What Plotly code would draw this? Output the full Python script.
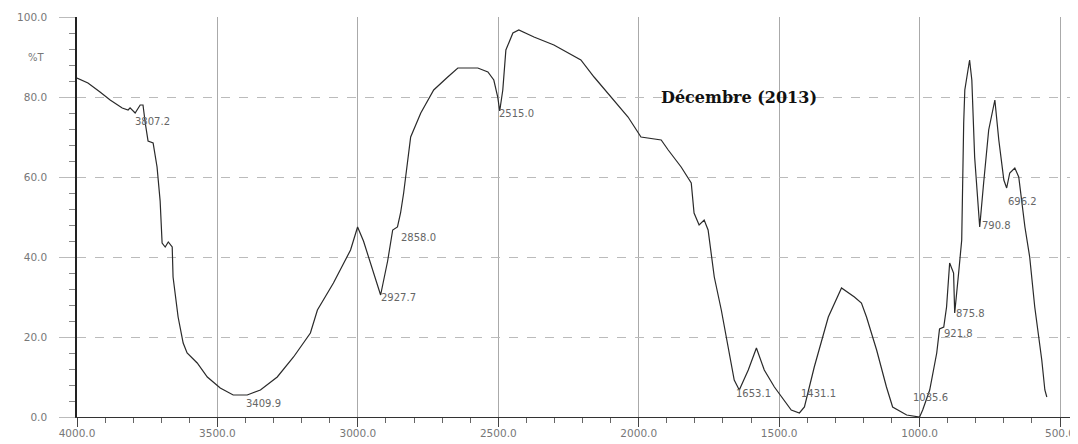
import plotly.graph_objects as go

# IR spectrum, Décembre (2013): wavenumber (cm-1) vs %T
wavenumber = [4000, 3961, 3918, 3882, 3839, 3818, 3811, 3793, 3775, 3765, 3757, 3747, 3729, 3715,
              3704, 3697, 3686, 3675, 3661, 3658, 3640, 3622, 3608, 3572, 3536, 3490, 3444, 3394,
              3347, 3287, 3229, 3169, 3144, 3087, 3026, 3001, 2980, 2955, 2919, 2894, 2876, 2859,
              2848, 2837, 2823, 2812, 2776, 2730, 2680, 2644, 2573, 2537, 2516, 2502, 2495, 2484,
              2473, 2448, 2427, 2373, 2302, 2206, 2159, 2099, 2038, 1992, 1920, 1895, 1849, 1813,
              1803, 1785, 1767, 1753, 1731, 1706, 1681, 1660, 1642, 1610, 1581, 1553, 1517, 1492,
              1457, 1428, 1410, 1375, 1325, 1278, 1232, 1207, 1189, 1153, 1118, 1096, 1046, 1000,
              989, 964, 939, 929, 914, 904, 893, 879, 875, 861, 850, 843, 839, 822, 814, 804, 790,
              786, 772, 754, 732, 718, 700, 690, 679, 661, 647, 625, 608, 590, 565, 554, 547]
transmittance = [84.75, 83.5, 81.25, 79.25, 77.25, 76.75, 77.3, 76.0, 78.0, 78.0, 73.5, 69.0, 68.5, 62.5,
                 54.0, 43.5, 42.5, 43.75, 42.5, 35.0, 25.0, 18.5, 16.0, 13.5, 10.0, 7.25, 5.5, 5.5,
                 6.75, 10.0, 15.0, 21.0, 26.75, 33.5, 41.75, 47.5, 44.0, 38.5, 30.5, 39.0, 46.75, 47.5,
                 51.0, 56.0, 64.0, 70.0, 76.0, 81.75, 85.0, 87.25, 87.25, 86.25, 84.25, 80.0, 76.5, 81.75,
                 91.75, 96.0, 96.75, 95.0, 93.0, 89.25, 85.0, 80.0, 75.0, 70.0, 69.25, 66.75, 62.5, 58.5,
                 51.0, 48.0, 49.25, 46.75, 35.0, 26.75, 16.75, 9.25, 6.75, 11.75, 17.25, 11.75, 7.5, 5.0,
                 1.75, 1.0, 2.5, 12.5, 25.0, 32.25, 30.0, 28.5, 25.0, 16.75, 7.5, 2.5, 0.5, 0.0,
                 1.75, 6.75, 16.0, 22.0, 22.5, 27.5, 38.5, 36.0, 26.0, 36.0, 44.25, 73.5, 81.75, 89.25, 84.25, 65.0, 52.5,
                 47.5, 58.5, 71.75, 79.25, 69.25, 59.25, 57.25, 61.0, 62.25, 60.0, 47.5, 40.0, 27.5, 14.25, 6.75, 5.0]

peak_labels = ["3807.2", "3409.9", "2927.7", "2858.0", "2515.0", "1653.1", "1431.1",
               "1035.6", "921.8", "875.8", "790.8", "696.2"]
peak_wn = [3800, 3405, 2925, 2855, 2505, 1660, 1430, 1030, 920, 878, 786, 693]
peak_T = [74.0, 3.3, 30.0, 45.0, 76.0, 6.0, 6.0, 5.0, 20.8, 26.0, 47.8, 54.0]

x_ticks = [4000, 3500, 3000, 2500, 2000, 1500, 1000, 500]
y_ticks = [0, 20, 40, 60, 80, 100]

fig = go.Figure()
fig.add_trace(go.Scatter(x=wavenumber, y=transmittance, mode="lines",
                         line=dict(color="#2a2a2a", width=1.2), hoverinfo="skip",
                         showlegend=False))

for txt, xv, yv in zip(peak_labels, peak_wn, peak_T):
    fig.add_annotation(x=xv, y=yv, text=txt, showarrow=False, xanchor="left",
                       yanchor="middle", font=dict(family="DejaVu Sans", size=10, color="#666"))

fig.add_annotation(x=1928, y=80, text="<b>Décembre (2013)</b>", showarrow=False,
                   xanchor="left", yanchor="middle",
                   font=dict(family="DejaVu Serif", size=16, color="#111"))
fig.add_annotation(xref="paper", x=-0.04, y=90, text="%T", showarrow=False,
                   xanchor="center", yanchor="middle",
                   font=dict(family="DejaVu Sans", size=10, color="#777"))

# page body adds an 8px offset; margins compensate so the plot sits where the reference has it
fig.update_layout(
    width=1070, height=436,
    margin=dict(l=69, r=0, t=9, b=27),
    plot_bgcolor="white", paper_bgcolor="white",
    showlegend=False,
)
fig.update_xaxes(
    range=[4000, 436], tickvals=x_ticks, ticktext=[f"{v:.1f}" for v in x_ticks],
    showgrid=True, gridcolor="#aaaaaa", gridwidth=1,
    showline=True, linecolor="#333", linewidth=1.2,
    ticks="outside", ticklen=9, tickcolor="#444",
    minor=dict(dtick=100, tick0=0, ticks="outside", ticklen=5, tickcolor="#666", showgrid=False),
    tickfont=dict(family="DejaVu Sans", size=10.5, color="#777"),
    ticklabelstandoff=-3,
    automargin=False,
    zeroline=False,
)
fig.update_yaxes(
    range=[0, 100], tickvals=y_ticks, ticktext=[f"{v:.1f}" for v in y_ticks],
    showgrid=True, gridcolor="#bbbbbb", gridwidth=1, griddash="dash",
    showline=True, linecolor="#222", linewidth=1.5,
    ticks="outside", ticklen=16, tickcolor="#bbbbbb",
    minor=dict(dtick=4, tick0=0, ticks="outside", ticklen=6, tickcolor="#888", showgrid=False),
    tickfont=dict(family="DejaVu Sans", size=10.5, color="#777"),
    ticklabelstandoff=10,
    automargin=False,
    zeroline=False,
)

fig.write_html("out.html")
